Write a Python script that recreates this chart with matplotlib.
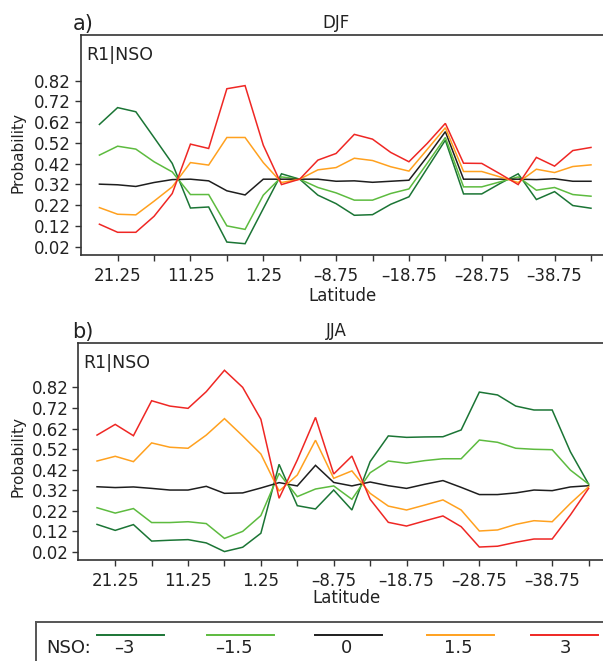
import numpy as np
import matplotlib
matplotlib.use("Agg")
import matplotlib.pyplot as plt
from matplotlib.lines import Line2D

plt.rcParams['font.family'] = ['DejaVu Sans']

latitude = [23.75, 21.25, 18.75, 16.25, 13.75, 11.25, 8.75, 6.25, 3.75, 1.25,
            -1.25, -3.75, -6.25, -8.75, -11.25, -13.75, -16.25, -18.75, -21.25,
            -23.75, -26.25, -28.75, -31.25, -33.75, -36.25, -38.75, -41.25, -43.75]

nso_levels = ["–3", "–1.5", "0", "1.5", "3"]
colors = ["#1b7535", "#5dbb3f", "#1e1e1e", "#ffa11f", "#ef2724"]

# DJF
djf_m3 = [0.609, 0.690, 0.670, 0.546, 0.421, 0.206, 0.211, 0.042, 0.034, 0.203,
          0.371, 0.345, 0.268, 0.227, 0.171, 0.174, 0.224, 0.260, 0.397, 0.533,
          0.274, 0.274, 0.324, 0.371, 0.247, 0.285, 0.218, 0.205]
djf_m15 = [0.461, 0.504, 0.490, 0.429, 0.380, 0.271, 0.271, 0.120, 0.103, 0.268,
           0.356, 0.345, 0.305, 0.279, 0.244, 0.244, 0.276, 0.298, 0.421, 0.546,
           0.308, 0.308, 0.332, 0.356, 0.292, 0.305, 0.271, 0.263]
djf_0 = [0.321, 0.318, 0.310, 0.329, 0.343, 0.345, 0.337, 0.289, 0.269, 0.345,
         0.345, 0.345, 0.345, 0.335, 0.337, 0.330, 0.335, 0.340, 0.453, 0.574,
         0.345, 0.345, 0.345, 0.345, 0.343, 0.347, 0.335, 0.335]
djf_p15 = [0.208, 0.176, 0.173, 0.239, 0.308, 0.425, 0.413, 0.546, 0.546, 0.425,
           0.329, 0.345, 0.390, 0.401, 0.446, 0.435, 0.405, 0.384, 0.488, 0.593,
           0.382, 0.382, 0.356, 0.329, 0.393, 0.377, 0.406, 0.414]
djf_p3 = [0.128, 0.089, 0.089, 0.166, 0.276, 0.514, 0.493, 0.781, 0.796, 0.509,
          0.319, 0.345, 0.437, 0.469, 0.561, 0.538, 0.474, 0.429, 0.517, 0.614,
          0.422, 0.421, 0.371, 0.319, 0.450, 0.408, 0.483, 0.498]

# JJA
jja_m3 = [0.154, 0.125, 0.153, 0.073, 0.077, 0.080, 0.064, 0.022, 0.043, 0.111,
          0.446, 0.245, 0.229, 0.321, 0.224, 0.459, 0.584, 0.577, 0.579, 0.580,
          0.613, 0.797, 0.783, 0.729, 0.710, 0.710, 0.507, 0.350]
jja_m15 = [0.235, 0.209, 0.231, 0.163, 0.163, 0.167, 0.158, 0.086, 0.120, 0.197,
           0.402, 0.289, 0.326, 0.341, 0.276, 0.405, 0.462, 0.451, 0.464, 0.473,
           0.473, 0.564, 0.553, 0.524, 0.519, 0.517, 0.418, 0.350]
jja_0 = [0.337, 0.333, 0.336, 0.329, 0.321, 0.321, 0.339, 0.305, 0.307, 0.331,
         0.357, 0.341, 0.441, 0.358, 0.341, 0.360, 0.342, 0.329, 0.349, 0.367,
         0.334, 0.299, 0.299, 0.307, 0.321, 0.318, 0.336, 0.342]
jja_p15 = [0.462, 0.485, 0.459, 0.550, 0.529, 0.524, 0.588, 0.668, 0.584, 0.496,
           0.316, 0.394, 0.563, 0.378, 0.414, 0.305, 0.243, 0.224, 0.248, 0.273,
           0.224, 0.122, 0.127, 0.154, 0.172, 0.167, 0.256, 0.337]
jja_p3 = [0.588, 0.640, 0.585, 0.755, 0.729, 0.718, 0.799, 0.903, 0.820, 0.665,
          0.281, 0.467, 0.674, 0.399, 0.486, 0.276, 0.164, 0.146, 0.171, 0.195,
          0.143, 0.044, 0.048, 0.067, 0.083, 0.083, 0.200, 0.329]

x_ticks = [21.25, 16.25, 11.25, 6.25, 1.25, -3.75, -8.75, -13.75, -18.75,
           -23.75, -28.75, -33.75, -38.75, -43.75]
x_ticklabels = ["21.25", "", "11.25", "", "1.25", "", "–8.75", "", "–18.75",
                "", "–28.75", "", "–38.75", ""]
y_ticks = [0.02, 0.12, 0.22, 0.32, 0.42, 0.52, 0.62, 0.72, 0.82]
y_ticklabels = ["0.02", "0.12", "0.22", "0.32", "0.42", "0.52", "0.62", "0.72", "0.82"]

W, H = 603, 661
fig = plt.figure(figsize=(W / 100, H / 100), dpi=100)

spine_col = "#333333"
txt_col = "#222222"


def make_panel(left_px, top_px, bottom_px, series, letter, season, ylim,
               ylab_xy, xlab_xy):
    ax = fig.add_axes([left_px / W, 1 - bottom_px / H,
                       (610 - 80.7) / W, (bottom_px - top_px) / H])
    for vals, c in zip(series, colors):
        ax.plot(latitude, vals, color=c, lw=1.1, solid_joinstyle='miter')
    ax.set_xlim(26.32, -46.36)
    ax.set_ylim(*ylim)
    ax.set_xticks(x_ticks)
    ax.set_xticklabels(x_ticklabels, fontsize=12, color=txt_col)
    ax.set_yticks(y_ticks)
    ax.set_yticklabels(y_ticklabels, fontsize=12, color=txt_col)
    ax.tick_params(direction='out', length=4, width=1.0, color=spine_col)
    ax.tick_params(axis='x', pad=5)
    ax.tick_params(axis='y', pad=3)
    for s in ax.spines.values():
        s.set_color(spine_col)
        s.set_linewidth(1.2)
    ax.spines['right'].set_visible(False)
    ax.set_xlabel("Latitude", fontsize=12, color=txt_col)
    ax.xaxis.set_label_coords(*xlab_xy)
    ax.set_ylabel("Probability", fontsize=11, color=txt_col)
    ax.yaxis.set_label_coords(*ylab_xy)
    ax.text(0.01, 0.95, "R1|NSO", transform=ax.transAxes, fontsize=12.5,
            color=txt_col, va='top', ha='left')
    fig.text(83 / W, 1 - (top_px - 11) / H, letter, fontsize=15, color=txt_col,
             ha='center', va='center')
    fig.text(336 / W, 1 - (top_px - 12) / H, season, fontsize=12, color=txt_col,
             ha='center', va='center')
    return ax


make_panel(80.7, 35, 254.7, [djf_m3, djf_m15, djf_0, djf_p15, djf_p3],
           "a)", "DJF", (-0.019, 1.04), (-0.105, 0.467), (0.494, -0.145))
make_panel(78.3, 342.7, 560, [jja_m3, jja_m15, jja_0, jja_p15, jja_p3],
           "b)", "JJA", (-0.019, 1.037), (-0.100, 0.474), (0.507, -0.135))

# Legend box
box_left, box_top = 36, 622
fig.add_artist(Line2D([box_left / W, 1.0], [1 - box_top / H, 1 - box_top / H],
                      transform=fig.transFigure, color="#555555", lw=1.4))
fig.add_artist(Line2D([box_left / W, box_left / W], [1 - box_top / H, 0],
                      transform=fig.transFigure, color="#555555", lw=1.4))
fig.text(46 / W, 1 - 648 / H, "NSO:", fontsize=13, color=txt_col,
         ha='left', va='center')
line_x0 = [97, 207, 315, 427, 531]
label_x = [124, 234, 346, 458, 565]
for x0, lx, c, lab in zip(line_x0, label_x, colors, nso_levels):
    fig.add_artist(Line2D([x0 / W, (x0 + 67) / W], [1 - 634.5 / H, 1 - 634.5 / H],
                          transform=fig.transFigure, color=c, lw=1.4))
    fig.text(lx / W, 1 - 648 / H, lab, fontsize=13, color=txt_col,
             ha='center', va='center')

fig.savefig("out.png", dpi=100)
